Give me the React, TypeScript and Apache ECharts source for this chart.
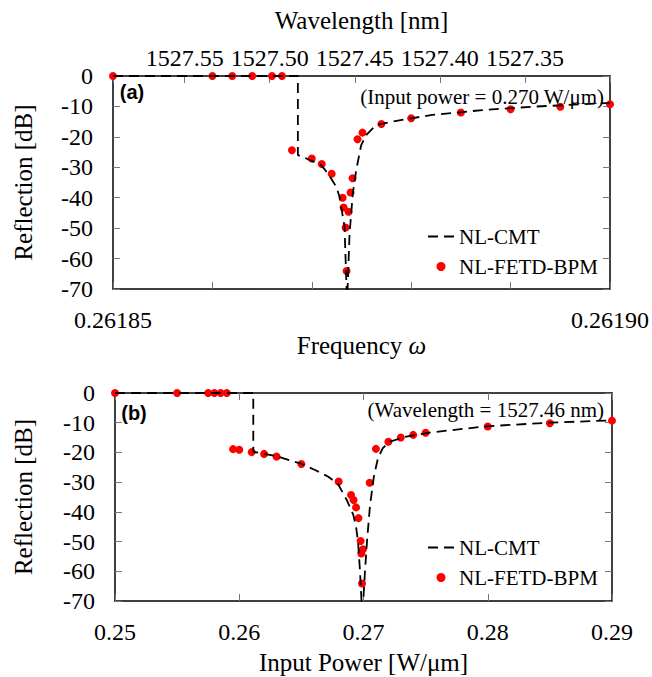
import React, { useEffect, useRef } from "react";
import * as echarts from "echarts";

// ---- Panel (a): reflection vs frequency ----
const freqPoints = [0.26185, 0.26186, 0.261862, 0.261864, 0.261866, 0.261867, 0.261868, 0.26187, 0.261871, 0.261872, 0.2618731, 0.2618732, 0.2618734, 0.2618735, 0.2618737, 0.2618739, 0.2618741, 0.2618746, 0.2618751, 0.261877, 0.26188, 0.261885, 0.26189, 0.261895, 0.2619];
const fetdReflA = [0, 0, 0, 0, 0, 0, -24.4, -27.1, -28.9, -32.1, -40.0, -43.2, -49.8, -64.1, -44.6, -38.3, -33.6, -20.8, -18.6, -15.8, -13.9, -12.0, -10.9, -10.1, -9.3];
const cmtFreq = [0.26185, 0.2618686, 0.2618686, 0.26186945, 0.26187095, 0.26187162, 0.26187246, 0.26187279, 0.26187312, 0.26187329, 0.2618735, 0.2618736, 0.2618738, 0.26187413, 0.26187447, 0.26187497, 0.26187547, 0.26187648, 0.26187814, 0.26187999, 0.26188213, 0.26188715, 0.26189217, 0.26189719, 0.2619];
const cmtReflA = [0, 0, -26.0, -27.1, -29.3, -32.0, -36.4, -39.7, -46.2, -49.5, -70, -70, -51.7, -38.5, -30.9, -22.7, -19.4, -16.1, -15.0, -13.9, -12.8, -11.2, -10.1, -9.3, -8.8];

// ---- Panel (b): reflection vs input power ----
const powerPoints = [0.25, 0.255, 0.2575, 0.258, 0.2585, 0.259, 0.2595, 0.26, 0.261, 0.262, 0.263, 0.265, 0.268, 0.269, 0.2692, 0.2694, 0.2696, 0.26977, 0.26982, 0.26996, 0.26988, 0.2705, 0.271, 0.272, 0.273, 0.274, 0.275, 0.28, 0.285, 0.29];
const fetdReflB = [0, 0, 0, 0, 0, 0, -18.9, -19.1, -19.9, -20.5, -21.4, -23.9, -29.8, -34.3, -36.0, -38.5, -42.1, -49.8, -54.0, -52.6, -64.1, -30.2, -18.8, -16.4, -15.0, -14.1, -13.4, -11.3, -10.2, -9.3];
const cmtPower = [0.25, 0.26113, 0.26113, 0.26193, 0.26301, 0.26497, 0.2661, 0.26717, 0.26797, 0.26865, 0.26918, 0.2694, 0.26956, 0.26972, 0.26984, 0.26998, 0.27012, 0.27028, 0.27052, 0.27084, 0.27116, 0.27156, 0.27213, 0.27334, 0.27535, 0.27994, 0.28493, 0.29];
const cmtReflB = [0, 0, -19.8, -20.4, -21.3, -23.8, -25.9, -28.2, -30.8, -36.0, -41.0, -45.0, -50.0, -60.0, -70, -70, -60, -50, -38, -28, -22, -18.5, -16.4, -14.8, -13.3, -11.2, -10.0, -9.2];

// tick labels / texts
const yTicks = { min: -70, max: 0, interval: 10 };
const wavelengthTickLabels = ["1527.55", "1527.50", "1527.45", "1527.40", "1527.35"];
const freqTickLabels = ["0.26185", "0.26190"];
const seriesNames = ["NL-CMT", "NL-FETD-BPM"];
const noteA = "(Input power = 0.270 W/\u03bcm)";
const noteB = "(Wavelength = 1527.46 nm)";

const SERIF = "Liberation Serif";
const SANS = "Liberation Sans";

const axisLine = { show: true, onZero: false, lineStyle: { color: "#000", width: 1.5 } };
const axisTick = { show: true, inside: true, length: 7, lineStyle: { color: "#777", width: 1 } };
const labelStyle = { fontSize: 24, fontFamily: SERIF, color: "#000" };
const nameStyle = { fontSize: 25, fontFamily: SERIF, color: "#000" };

function yAxes(gridIndex: number, nameGap: number) {
  return [
    {
      gridIndex, type: "value", position: "left", ...yTicks,
      axisLine, axisTick, splitLine: { show: false },
      axisLabel: { ...labelStyle, margin: 20 },
      name: "Reflection [dB]", nameLocation: "middle", nameGap, nameTextStyle: nameStyle,
    },
    {
      gridIndex, type: "value", position: "right", ...yTicks,
      axisLine, axisTick, splitLine: { show: false }, axisLabel: { show: false },
    },
  ];
}

function legendAt(top: number) {
  return {
    data: [
      { name: seriesNames[0], icon: "path://M0 0H10V1.8H0Z M16 0H26V1.8H16Z" },
      { name: seriesNames[1], icon: "circle" },
    ],
    orient: "vertical", left: 428, top, padding: 0,
    itemWidth: 26, itemHeight: 9, itemGap: 9, selectedMode: false,
    textStyle: { fontSize: 21, fontFamily: SERIF, color: "#000", lineHeight: 21 },
  };
}

export default function App() {
  const ref = useRef<HTMLDivElement>(null);
  useEffect(() => {
    if (!ref.current) return;
    const chart = echarts.init(ref.current, null, { renderer: "svg" });
    const lambdaMax = 400 / 0.26185;
    const option: any = {
      animation: false,
      backgroundColor: "#fff",
      textStyle: { fontFamily: SERIF },
      grid: [
        { left: 113, top: 76, width: 498, height: 213 },
        { left: 115, top: 393, width: 497, height: 208 },
      ],
      xAxis: [
        {
          gridIndex: 0, type: "value", position: "bottom", min: 0.26185, max: 0.2619, interval: 0.00001,
          axisLine, axisTick, splitLine: { show: false },
          axisLabel: {
            ...labelStyle, margin: 19, showMinLabel: true, showMaxLabel: true,
            formatter: (v: number) =>
              Math.abs(v - 0.26185) < 1e-9 ? freqTickLabels[0] : Math.abs(v - 0.2619) < 1e-9 ? freqTickLabels[1] : "",
          },
          name: "{a|Frequency }{b|\u03c9}", nameLocation: "middle", nameGap: 43,
          nameTextStyle: {
            ...nameStyle,
            rich: {
              a: { fontSize: 25, fontFamily: SERIF, color: "#000" },
              b: { fontSize: 25, fontFamily: SERIF, color: "#000", fontStyle: "italic" },
            },
          },
        },
        {
          gridIndex: 0, type: "value", position: "top", inverse: true, min: 1527.3, max: lambdaMax, interval: 0.05,
          axisLine, axisTick, splitLine: { show: false },
          axisLabel: {
            ...labelStyle, margin: 6,
            formatter: (v: number) => {
              const s = v.toFixed(2);
              return wavelengthTickLabels.indexOf(s) >= 0 ? s : "";
            },
          },
          name: "Wavelength [nm]", nameLocation: "middle", nameGap: 43, nameTextStyle: nameStyle,
        },
        {
          gridIndex: 1, type: "value", position: "bottom", min: 0.25, max: 0.29, interval: 0.01,
          axisLine, axisTick, splitLine: { show: false },
          axisLabel: { ...labelStyle, margin: 19, formatter: (v: number) => v.toFixed(2) },
          name: "Input Power [W/\u03bcm]", nameLocation: "middle", nameGap: 49, nameTextStyle: nameStyle,
        },
        {
          gridIndex: 1, type: "value", position: "top", min: 0.25, max: 0.29, interval: 0.01,
          axisLine, axisTick, splitLine: { show: false }, axisLabel: { show: false },
        },
      ],
      yAxis: [...yAxes(0, 77), ...yAxes(1, 79)],
      legend: [legendAt(226), legendAt(537)],
      series: [
        {
          name: seriesNames[0], type: "line", xAxisIndex: 0, yAxisIndex: 0, symbol: "none",
          data: cmtFreq.map((x, i) => [x, cmtReflA[i]]),
          lineStyle: { color: "#000", width: 1.8, type: [10, 6] }, itemStyle: { color: "#000" },
        },
        {
          name: seriesNames[1], type: "scatter", xAxisIndex: 0, yAxisIndex: 0, symbol: "circle", symbolSize: 8,
          clip: false, data: freqPoints.map((x, i) => [x, fetdReflA[i]]), itemStyle: { color: "#ff0000", opacity: 1 },
        },
        {
          name: seriesNames[0], type: "line", xAxisIndex: 2, yAxisIndex: 2, symbol: "none",
          data: cmtPower.map((x, i) => [x, cmtReflB[i]]),
          lineStyle: { color: "#000", width: 1.8, type: [10, 6] }, itemStyle: { color: "#000" },
        },
        {
          name: seriesNames[1], type: "scatter", xAxisIndex: 2, yAxisIndex: 2, symbol: "circle", symbolSize: 8,
          clip: false, data: powerPoints.map((x, i) => [x, fetdReflB[i]]), itemStyle: { color: "#ff0000", opacity: 1 },
        },
      ],
      graphic: [
        { type: "text", x: 132, y: 92, style: { text: "(a)", fontSize: 20, fontWeight: "bold", fontFamily: SANS, fill: "#000", align: "center", verticalAlign: "middle" } },
        { type: "text", x: 134, y: 413, style: { text: "(b)", fontSize: 20, fontWeight: "bold", fontFamily: SANS, fill: "#000", align: "center", verticalAlign: "middle" } },
        { type: "text", x: 604, y: 97, style: { text: noteA, fontSize: 21, fontFamily: SERIF, fill: "#000", align: "right", verticalAlign: "middle" } },
        { type: "text", x: 604, y: 410, style: { text: noteB, fontSize: 21, fontFamily: SERIF, fill: "#000", align: "right", verticalAlign: "middle" } },
      ],
    };
    chart.setOption(option);
    return () => chart.dispose();
  }, []);
  return <div ref={ref} style={{ width: 652, height: 677, position: "absolute", left: 0, top: 0 }} />;
}
